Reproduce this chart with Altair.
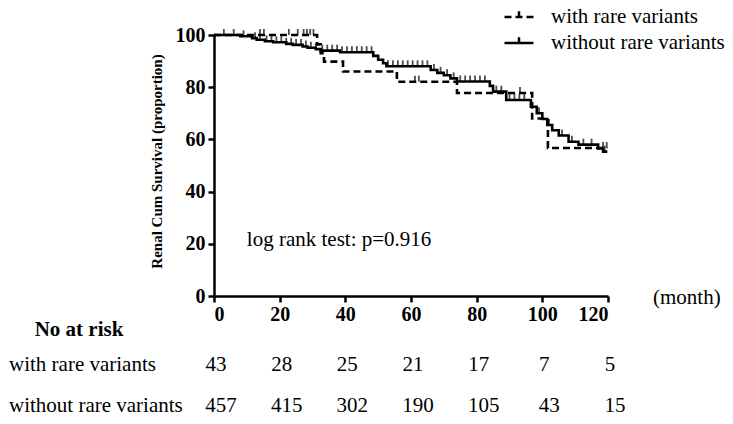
import altair as alt
import pandas as pd

# ---- data ----
groups = ["with rare variants", "without rare variants"]

with_t = [0, 31.4, 32.5, 33.5, 39.3, 55.7, 74.0, 96.9, 101.7, 119.8]
with_s = [100, 96.4, 93.0, 89.8, 86.0, 82.1, 77.8, 68.0, 56.7, 56.7]
with_cens = [14.0, 15.2, 22.8, 25.5, 27.3, 28.3, 29.3, 30.3, 61.2, 62.4, 93.2, 118.5, 119.6]

without_t = [0, 8, 11.6, 13, 15.5, 18, 22, 24, 27, 28.5, 31, 32.5, 38.4, 48.5, 50, 51.5,
             52.5, 66, 68, 70, 72, 74, 84, 85, 89, 96.5, 98.3, 100, 101.5, 103, 105, 108,
             111, 117, 118.5, 119.8]
without_s = [100, 99.5, 98.8, 98.2, 97.6, 97.2, 96.6, 96.2, 95.6, 95.1, 94.6, 94.0, 93.4,
             92.0, 90.5, 89.2, 88.0, 86.6, 85.5, 84.6, 83.4, 82.2, 80.5, 78.3, 75.1, 72.5,
             70.0, 67.8, 65.5, 63.5, 61.5, 59.1, 58.0, 56.5, 55.3, 55.3]
without_cens = [3, 6, 9, 12.5, 14, 16, 17.5, 19, 20.5, 22, 23.5, 25, 26.5, 28, 29.5, 31, 33,
                34.5, 36, 37.5, 39, 40.5, 42, 43.5, 45, 46.5, 48, 53, 54.5, 56, 57.5, 59,
                60.5, 62, 63.5, 65, 67, 69, 71, 73, 75, 76.5, 78, 79.5, 81, 82.5, 86, 87.5,
                90, 91.5, 93, 94.5, 99, 102, 106, 109, 112.5, 115, 119]

risk_months = [0, 20, 40, 60, 80, 100, 120]
risk_with = [43, 28, 25, 21, 17, 7, 5]
risk_without = [457, 415, 302, 190, 105, 43, 15]

FONT = "Liberation Serif"
FS = 21
W, H = 394, 261


def step_value(ts, ss, c):
    v = ss[0]
    for t, s in zip(ts, ss):
        if t <= c:
            v = s
    return v


curve_df = pd.concat([
    pd.DataFrame({"month": with_t, "surv": with_s, "group": groups[0], "ord": range(len(with_t))}),
    pd.DataFrame({"month": without_t, "surv": without_s, "group": groups[1], "ord": range(len(without_t))}),
])
cens_df = pd.concat([
    pd.DataFrame({"month": with_cens, "surv": [step_value(with_t, with_s, c) for c in with_cens]}),
    pd.DataFrame({"month": without_cens, "surv": [step_value(without_t, without_s, c) for c in without_cens]}),
])
risk_df = pd.DataFrame({"month": risk_months, "with": risk_with, "without": risk_without})
note_df = pd.DataFrame({"month": [10], "surv": [21.5], "label": ["log rank test: p=0.916"]})

xscale = alt.Scale(domain=[0, 120], nice=False, zero=False)
yscale = alt.Scale(domain=[0, 100], nice=False)

xaxis = alt.Axis(values=risk_months, title=None, labelFontSize=20, labelFontWeight="bold",
                 labelFont=FONT, tickSize=6, tickWidth=2.5, domainWidth=2.5,
                 domainColor="black", tickColor="black", labelColor="black", labelPadding=2,
                 grid=False)
yaxis = alt.Axis(values=[0, 20, 40, 60, 80, 100], title="Renal Cum Survival (proportion)",
                 labelFontSize=20, labelFontWeight="bold", labelFont=FONT, tickSize=6,
                 tickWidth=2.5, domainWidth=2.5, domainColor="black", tickColor="black",
                 labelColor="black", labelPadding=3, grid=False, titleFont=FONT,
                 titleFontSize=15, titleFontWeight="bold", titleColor="black",
                 titleX=-58, titleY=126, titleAngle=270, titleAlign="center",
                 titleBaseline="middle")

lines = alt.Chart(curve_df).mark_line(interpolate="step-after", color="black", strokeWidth=2.6).encode(
    x=alt.X("month:Q", scale=xscale, axis=xaxis),
    y=alt.Y("surv:Q", scale=yscale, axis=yaxis),
    strokeDash=alt.StrokeDash(
        "group:N",
        scale=alt.Scale(domain=groups, range=[[7, 4], [1, 0]]),
        legend=alt.Legend(orient="none", legendX=289, legendY=-34, title=None,
                          labelFont=FONT, labelFontSize=FS, labelColor="black",
                          labelLimit=400,
                          symbolType="M-1,0H1M0,0V-0.4", symbolSize=841,
                          symbolStrokeWidth=2.5, symbolStrokeColor="black",
                          labelOffset=16, rowPadding=0, padding=0),
    ),
    order="ord:Q",
)

ticks = alt.Chart(cens_df).mark_tick(orient="vertical", size=6, thickness=1.8, yOffset=-3,
                                     color="black").encode(
    x=alt.X("month:Q", scale=xscale),
    y=alt.Y("surv:Q", scale=yscale),
)

note = alt.Chart(note_df).mark_text(align="left", baseline="middle", font=FONT, fontSize=FS,
                                    color="black").encode(
    x=alt.X("month:Q", scale=xscale), y=alt.Y("surv:Q", scale=yscale), text="label:N")

month_lbl = alt.Chart(note_df).mark_text(align="left", baseline="middle", font=FONT, fontSize=FS,
                                         color="black").encode(
    x=alt.value(439), y=alt.value(263), text=alt.value("(month)"))

header = alt.Chart(note_df).mark_text(align="center", baseline="middle", font=FONT, fontSize=FS,
                                      fontWeight="bold", color="black").encode(
    x=alt.value(-135), y=alt.value(295), text=alt.value("No at risk"))

row1_lbl = alt.Chart(note_df).mark_text(align="left", baseline="middle", font=FONT, fontSize=FS,
                                        color="black").encode(
    x=alt.value(-205), y=alt.value(330), text=alt.value(groups[0]))
row2_lbl = alt.Chart(note_df).mark_text(align="left", baseline="middle", font=FONT, fontSize=FS,
                                        color="black").encode(
    x=alt.value(-205), y=alt.value(371), text=alt.value(groups[1]))

row1 = alt.Chart(risk_df).mark_text(align="center", baseline="middle", font=FONT, fontSize=FS,
                                    color="black", dx=2).encode(
    x=alt.X("month:Q", scale=xscale), y=alt.value(330), text="with:Q")
row2 = alt.Chart(risk_df).mark_text(align="center", baseline="middle", font=FONT, fontSize=FS,
                                    color="black", dx=7).encode(
    x=alt.X("month:Q", scale=xscale), y=alt.value(371), text="without:Q")

chart = alt.layer(lines, ticks, note, month_lbl, header, row1_lbl, row2_lbl, row1, row2).properties(
    width=W, height=H,
    autosize=alt.AutoSizeParams(type="none"),
    padding={"left": 206, "top": 27, "right": 117, "bottom": 120},
    background="white",
).configure(font=FONT).configure_view(stroke=None).configure_legend(
    labelFont=FONT, labelFontSize=FS, labelLimit=400)

chart.save("out.html", embed_options={"renderer": "svg", "actions": False})
